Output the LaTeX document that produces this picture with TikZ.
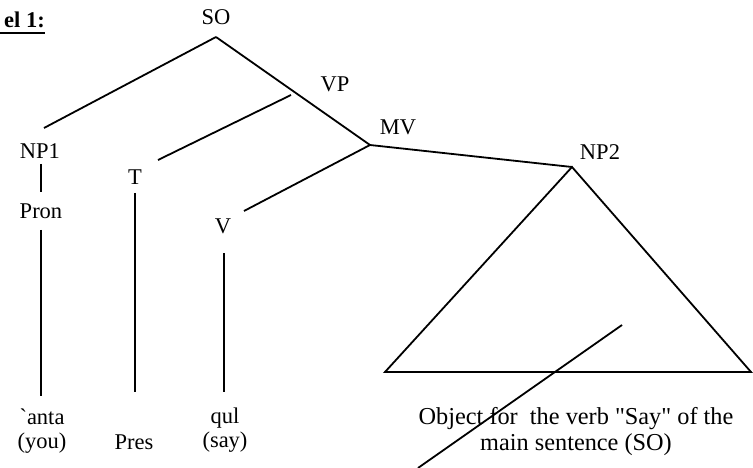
\documentclass[tikz,border=0pt]{standalone}
\usepackage{fontspec}
\newfontfamily\tnr{Liberation Serif}
\begin{document}
\begin{tikzpicture}[x=1pt,y=-1pt,
  lbl/.style={font=\tnr\fontsize{22.5}{24}\selectfont, inner sep=0pt, align=center},
  br/.style={line width=1.8pt}]
\useasboundingbox (0,0) rectangle (753,468);
% heading
\node[lbl, anchor=base east, font=\tnr\bfseries\fontsize{22.5}{24}\selectfont] (head) at (45,28) {el 1:};
\draw[line width=1.9pt] (0,33) -- (45,33);
% labels
\node[lbl] (so) at (216,17) {SO};
\node[lbl] (vp) at (335,84) {VP};
\node[lbl] (mv) at (398,127) {MV};
\node[lbl] (np2) at (600,152) {NP2};
\node[lbl] (np1) at (40,151) {NP1};
\node[lbl] (t) at (135,177) {T};
\node[lbl] (v) at (223,226) {V};
\node[lbl] (pron) at (41,211) {Pron};
\node[lbl] (anta) at (42,431) {\symbol{96}anta\\(you)};
\node[lbl] (pres) at (134,442) {Pres};
\node[lbl] (qul) at (225,430) {qul\\(say)};
\node[lbl, font=\tnr\fontsize{24.3}{26}\selectfont] (obj) at (576,432) {Object for\ \ the verb "Say" of the\\main sentence (SO)};
% branch points
\coordinate (pSO) at (216,37);
\coordinate (pVP) at (291,95);
\coordinate (pMV) at (370,145);
\coordinate (pNP2) at (572,167);
\coordinate (bl) at (385,372);
\coordinate (brt) at (751,372);
\coordinate (x1) at (622,325);
\coordinate (x2) at (418,468);
% tree
\draw[br] (pSO) -- (44,128);
\draw[br] (pSO) -- (pMV);
\draw[br] (pVP) -- (158,160);
\draw[br] (pMV) -- (244,211);
\draw[br] (pMV) -- (pNP2);
\draw[br] (41,164) -- (41,192);
\draw[br] (41,230) -- (41,396);
\draw[br] (135,193) -- (135,392);
\draw[br] (224,253) -- (224,392);
\draw[br, line join=miter] (pNP2) -- (bl) -- (brt) -- cycle;
\draw[br] (x1) -- (x2);
\end{tikzpicture}
\end{document}
